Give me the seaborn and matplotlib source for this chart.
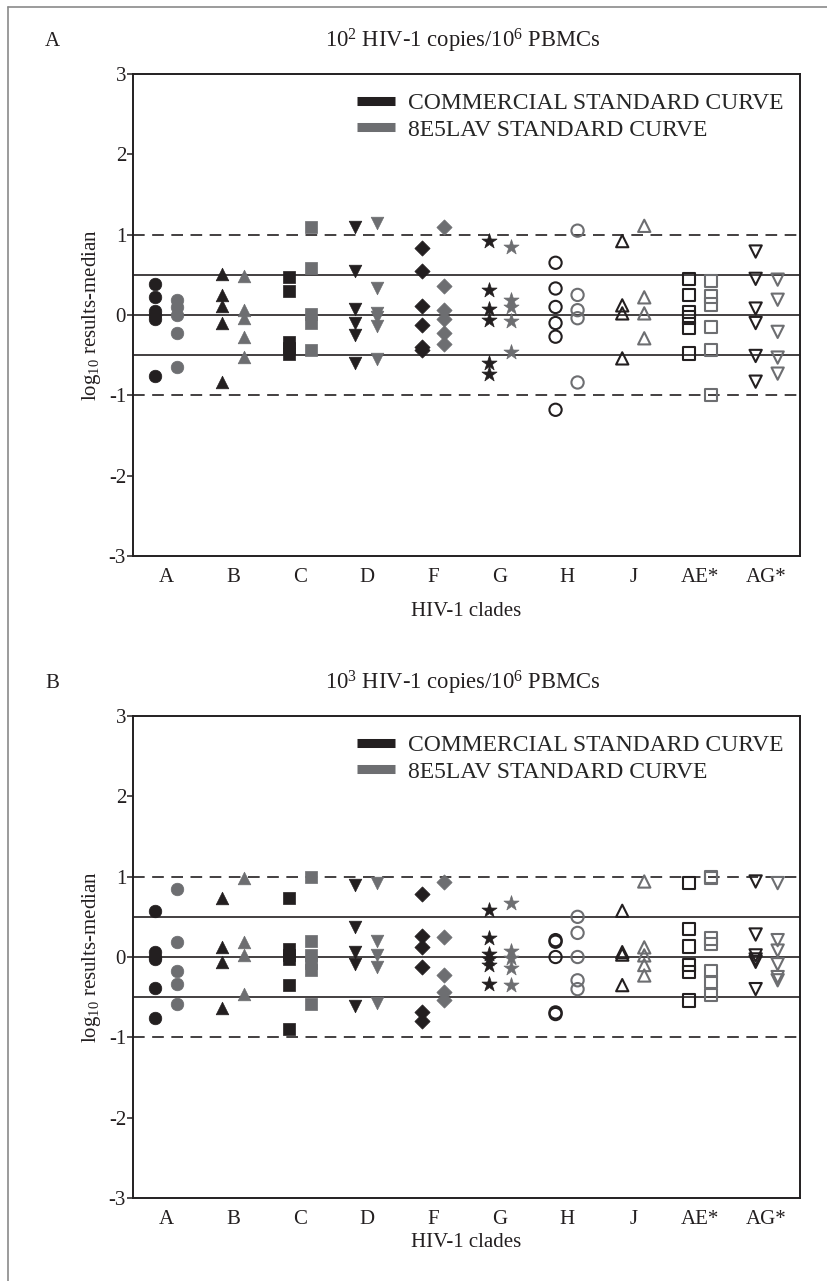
import numpy as np
import pandas as pd
import matplotlib
matplotlib.use('Agg')
import matplotlib.pyplot as plt
import seaborn as sns
from matplotlib.lines import Line2D

clades = ['A', 'B', 'C', 'D', 'F', 'G', 'H', 'J', 'AE*', 'AG*']
markers = ['o', '^', 's', 'v', 'D', '*', 'o', '^', 's', 'v']
filled = [True, True, True, True, True, True, False, False, False, False]
curves = ['COMMERCIAL STANDARD CURVE', '8E5LAV STANDARD CURVE']
titles = ['10$^2$ HIV-1 copies/10$^6$ PBMCs', '10$^3$ HIV-1 copies/10$^6$ PBMCs']
panel_letters = ['A', 'B']

# panel A, 10^2 copies
a_commercial = [
    [0.38, 0.23, 0.05, 0.0, -0.05, -0.76],
    [0.51, 0.25, 0.11, -0.10, -0.83],
    [0.47, 0.30, -0.33, -0.41, -0.48],
    [1.10, 0.55, 0.07, -0.10, -0.25, -0.60],
    [0.84, 0.55, 0.11, -0.12, -0.40, -0.44],
    [0.92, 0.31, 0.075, -0.06, -0.60, -0.73],
    [0.65, 0.33, 0.10, -0.10, -0.27, -1.18],
    [0.92, 0.12, 0.02, -0.54],
    [0.45, 0.25, 0.04, -0.03, -0.16, -0.48],
    [0.79, 0.45, 0.08, -0.10, -0.51, -0.83],
]
a_8e5lav = [
    [0.19, 0.10, 0.0, -0.23, -0.65],
    [0.49, 0.06, -0.04, -0.28, -0.52],
    [1.10, 0.58, 0.01, -0.10, -0.44],
    [1.15, 0.33, 0.02, -0.02, -0.14, -0.55],
    [1.09, 0.36, 0.06, -0.05, -0.22, -0.36],
    [0.85, 0.19, 0.10, -0.08, -0.46],
    [1.05, 0.25, 0.06, -0.04, -0.84],
    [1.11, 0.22, 0.02, -0.29],
    [0.42, 0.23, 0.13, -0.15, -0.44, -1.00],
    [0.44, 0.19, -0.21, -0.53, -0.73],
]

# panel B, 10^3 copies
b_commercial = [
    [0.57, 0.06, 0.0, -0.03, -0.38, -0.76],
    [0.73, 0.12, -0.06, -0.63],
    [0.73, 0.10, 0.02, -0.03, -0.35, -0.90],
    [0.90, 0.37, 0.06, -0.09, -0.61],
    [0.79, 0.26, 0.125, -0.12, -0.69, -0.80],
    [0.58, 0.24, 0.04, -0.03, -0.10, -0.34],
    [0.21, 0.19, 0.0, -0.69, -0.71],
    [0.575, 0.06, 0.03, -0.35],
    [0.925, 0.35, 0.13, -0.10, -0.19, -0.54],
    [0.94, 0.28, 0.02, -0.03, -0.06, -0.40],
]
b_8e5lav = [
    [0.85, 0.19, -0.18, -0.33, -0.58],
    [0.98, 0.19, 0.02, -0.46],
    [1.00, 0.20, 0.02, -0.08, -0.16, -0.58],
    [0.92, 0.20, 0.02, -0.13, -0.57],
    [0.93, 0.25, -0.23, -0.44, -0.54],
    [0.675, 0.08, -0.01, -0.14, -0.35],
    [0.50, 0.30, 0.0, -0.29, -0.40],
    [0.94, 0.12, 0.02, -0.10, -0.23],
    [1.00, 0.98, 0.23, 0.16, -0.17, -0.31, -0.47],
    [0.92, 0.21, 0.08, -0.09, -0.25, -0.29],
]

panels = [[a_commercial, a_8e5lav], [b_commercial, b_8e5lav]]

# long table
rows = []
for p, series in enumerate(panels):
    for c, vals_by_clade in enumerate(series):
        for i, vals in enumerate(vals_by_clade):
            for v in vals:
                rows.append({'panel': p, 'curve': curves[c], 'clade': clades[i], 'value': v})
df = pd.DataFrame(rows)

sns.set_style('ticks')
plt.rcParams['font.family'] = ['Liberation Serif', 'DejaVu Serif']
plt.rcParams['mathtext.fontset'] = 'custom'
plt.rcParams['mathtext.rm'] = 'Liberation Serif'
plt.rcParams['mathtext.it'] = 'Liberation Serif:italic'
plt.rcParams['axes.unicode_minus'] = False

black = '#231f20'
grey = '#6d6e71'
colors = [black, grey]
offsets = [-0.165, 0.165]
fs = 15

fig = plt.figure(figsize=(8.28, 12.81), dpi=100)
left, width = 133 / 828, 667 / 828
ax_tops = [74, 716]
ax_h = 482

for p in range(2):
    top = ax_tops[p]
    ax = fig.add_axes([left, 1 - (top + ax_h) / 1281, width, ax_h / 1281])
    for yv, ls in [(1, (0, (7, 4.5))), (0.5, '-'), (0, '-'), (-0.5, '-'), (-1, (0, (7, 4.5)))]:
        ax.axhline(yv, color=black, lw=1.2, ls=ls, zorder=1)

    sub = df[df['panel'] == p]
    for c, curve in enumerate(curves):
        for i, clade in enumerate(clades):
            d = sub[(sub['curve'] == curve) & (sub['clade'] == clade)].copy()
            d['x'] = i + offsets[c]
            m = markers[i]
            size = 82
            if m == '*':
                size = 130
            elif m == 'D':
                size = 60
            if filled[i]:
                sns.scatterplot(data=d, x='x', y='value', marker=m, s=size, color=colors[c],
                                edgecolor=colors[c], linewidth=0.5, ax=ax, zorder=3, legend=False)
            else:
                sns.scatterplot(data=d, x='x', y='value', marker=m, s=size * 0.95, color=colors[c],
                                edgecolor=colors[c], linewidth=1.5, ax=ax, zorder=3, legend=False)
                ax.collections[-1].set_facecolor('none')

    ax.set_xlim(-0.5, 9.5)
    ax.set_ylim(-3, 3)
    ax.set_xticks(range(len(clades)))
    ax.set_xticklabels(clades, fontsize=fs)
    ax.set_yticks([-3, -2, -1, 0, 1, 2, 3])
    ax.set_yticklabels(['-3', '-2', '-1', '0', '1', '2', '3'], fontsize=fs)
    ax.tick_params(axis='x', length=0, pad=9, colors=black)
    ax.tick_params(axis='y', length=4, width=1.1, pad=1, colors=black)
    for s in ax.spines.values():
        s.set_linewidth(1.4)
        s.set_color(black)

    ax.set_xlabel('HIV-1 clades', fontsize=fs, color=black)
    ax.xaxis.set_label_coords(0.5, -0.095 if p == 0 else -0.072)
    ax.set_ylabel('log$_{10}$ results-median', fontsize=fs, color=black)
    ax.yaxis.set_label_coords(-0.045, 0.5)

    handles = [Line2D([0], [0], color=col, lw=6.5, solid_capstyle='butt') for col in colors]
    ax.legend(handles, curves, loc='upper left', bbox_to_anchor=(0.336, 0.962), frameon=False,
              fontsize=17, handlelength=1.6, handletextpad=0.55, labelspacing=0.22,
              borderpad=0, borderaxespad=0)

    ty = 1 - (41 + 642 * p) / 1281
    fig.text(45 / 828, ty, panel_letters[p], fontsize=fs, ha='left', va='center', color=black)
    fig.text(463 / 828, ty, titles[p], fontsize=16.3, ha='center', va='center', color=black)

# page frame
fig.add_artist(Line2D([8 / 828, 8 / 828], [0, 1 - 7 / 1281], transform=fig.transFigure, color='#8a8a8a', lw=1.2))
fig.add_artist(Line2D([8 / 828, 1], [1 - 7 / 1281, 1 - 7 / 1281], transform=fig.transFigure, color='#8a8a8a', lw=1.2))

plt.savefig('out.png', dpi=100)
